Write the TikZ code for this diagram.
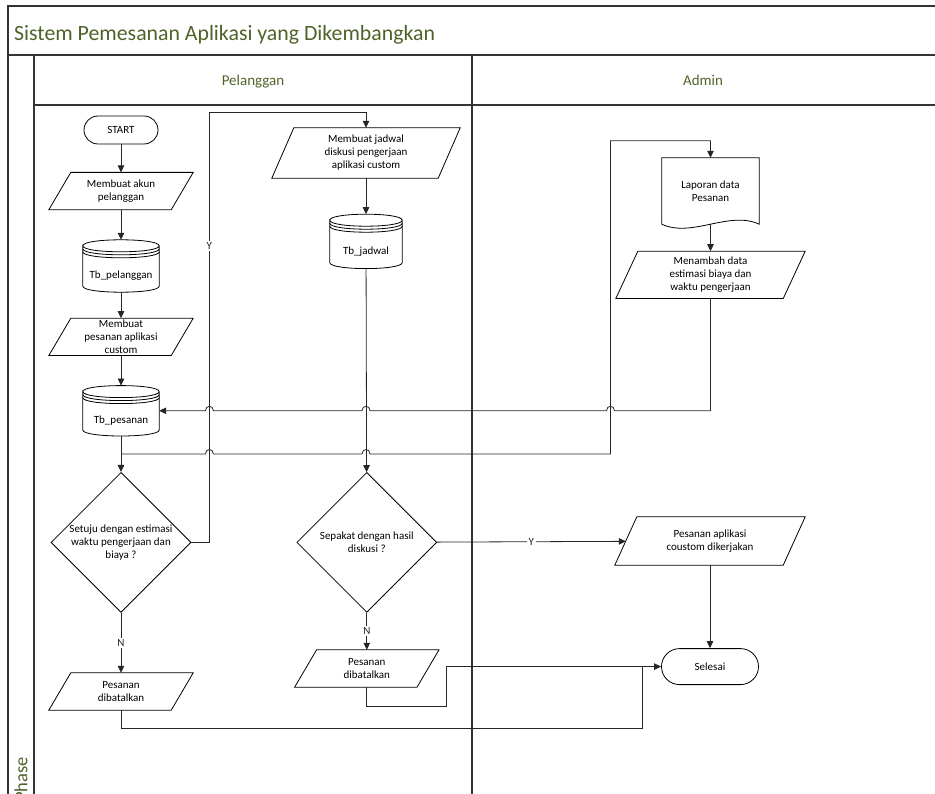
\documentclass[tikz,border=0pt]{standalone}
\usepackage{fontspec}
\setmainfont{Carlito}
\usetikzlibrary{arrows.meta, shapes.geometric, calc, positioning}
\definecolor{lanegreen}{RGB}{79,98,40}
\newcommand\boxfont{\fontsize{11}{13}\selectfont}

\begin{document}
\begin{tikzpicture}[x=1pt, y=-1pt, font=\boxfont, align=center]
\tikzstyle{lane}=[line width=1.5pt, black!80]
\tikzstyle{lanetext}=[inner sep=0pt, text=lanegreen, font=\fontsize{15}{18}\selectfont]
\tikzstyle{shapeline}=[line width=0.8pt, black]
\tikzstyle{term}=[draw, shapeline, rectangle, rounded corners=14pt, minimum width=74pt, minimum height=28pt]
\tikzstyle{decision}=[draw, shapeline, diamond, aspect=1, minimum width=140pt, minimum height=140pt, inner sep=0pt]
\tikzstyle{io}=[rectangle, inner sep=0pt, minimum width=122pt, minimum height=37pt,
  append after command={\pgfextra{\draw[shapeline]
    ($(\tikzlastnode.north west)+(11,0)$) -- ($(\tikzlastnode.north east)+(11,0)$) --
    ($(\tikzlastnode.south east)+(-11,0)$) -- ($(\tikzlastnode.south west)+(-11,0)$) -- cycle;}}]
\tikzstyle{db}=[rectangle, minimum width=76pt, minimum height=52pt, text height=26pt, text depth=0pt,
  append after command={\pgfextra{
    \draw[shapeline] ($(\tikzlastnode.north west)+(0,6)$) .. controls +(0,-8) and +(0,-8) .. ($(\tikzlastnode.north east)+(0,6)$)
      .. controls +(0,8) and +(0,8) .. ($(\tikzlastnode.north west)+(0,6)$)
      -- ($(\tikzlastnode.south west)+(0,-6)$)
      .. controls +(0,8) and +(0,8) .. ($(\tikzlastnode.south east)+(0,-6)$)
      -- ($(\tikzlastnode.north east)+(0,6)$);
    \draw[shapeline] ($(\tikzlastnode.north west)+(0,9)$) .. controls +(0,8) and +(0,8) .. ($(\tikzlastnode.north east)+(0,9)$);
    \draw[shapeline] ($(\tikzlastnode.north west)+(0,12)$) .. controls +(0,8) and +(0,8) .. ($(\tikzlastnode.north east)+(0,12)$);}}]
\tikzstyle{doc}=[rectangle, minimum width=97pt, minimum height=66pt,
  append after command={\pgfextra{\draw[shapeline] (\tikzlastnode.south west) -- (\tikzlastnode.north west)
    -- (\tikzlastnode.north east) -- (\tikzlastnode.south east)
    .. controls +(-30,-14) and +(30,14) .. (\tikzlastnode.south west);}}]
\tikzstyle{line}=[draw, line width=0.8pt, black!85]
\tikzstyle{arr}=[line, -{Triangle[length=7pt,width=6.5pt]}]
\tikzstyle{lbl}=[fill=white, inner sep=1.5pt]

\useasboundingbox (0,0) rectangle (935,794);
\clip (0,0) rectangle (935,794);

% swimlanes
\draw[lane] (8,794) -- (8,6) -- (935,6);
\draw[lane] (8,55) -- (935,55);
\draw[lane] (34,55) -- (34,794);
\draw[lane] (34,105) -- (935,105);
\draw[lane] (472,55) -- (472,794);
\node[lanetext, anchor=base west, font=\fontsize{21.8}{26}\selectfont] (title) at (14,41) {Sistem Pemesanan Aplikasi yang Dikembangkan};
\node[lanetext, anchor=base] (hpel) at (253,86) {Pelanggan};
\node[lanetext, anchor=base] (hadm) at (703,86) {Admin};
\node[lanetext, rotate=90, anchor=east, font=\fontsize{18.5}{22}\selectfont] (phase) at (21,757) {Phase};

% Pelanggan
\node[term] (start) at (121,130) {START};
\node[io] (akun) [below=28pt of start] {Membuat akun\\pelanggan};
\node[db] (dbpel) [below=30pt of akun] {Tb\_pelanggan};
\node[io] (pesan) [below=26pt of dbpel] {Membuat\\pesanan aplikasi\\custom};
\node[db, minimum height=50pt] (dbpes) [below=30pt of pesan] {Tb\_pesanan};
\node[decision] (dec1) [below=36pt of dbpes] {Setuju dengan estimasi\\waktu pengerjaan dan\\biaya ?};
\node[io] (batal1) [below=60pt of dec1] {Pesanan\\dibatalkan};

\node[io, minimum width=166pt, minimum height=50pt] (jadwal) at (366,153) {Membuat jadwal\\diskusi pengerjaan\\aplikasi custom};
\node[db, minimum width=72pt, minimum height=54pt] (dbjad) [below=36pt of jadwal] {Tb\_jadwal};
\node[decision] (dec2) [right=105pt of dec1] {Sepakat dengan hasil\\diskusi ?};
\node[io] (batal2) [below=37pt of dec2] {Pesanan\\dibatalkan};

% Admin
\node[doc] (laporan) at (710.5,191) {Laporan data\\Pesanan};
\node[io, minimum width=167pt, minimum height=47pt] (tambah) [below=27pt of laporan] {Menambah data\\estimasi biaya dan\\waktu pengerjaan};
\node[io, minimum width=168pt, minimum height=48pt] (kerja) at (710,541) {Pesanan aplikasi\\coustom dikerjakan};
\node[term, rounded corners=18pt, minimum width=97pt, minimum height=36pt] (selesai) [below=83pt of kerja] {Selesai};

\coordinate (split) at ($(dbpes.south)!0.5!(dec1.north)$);
\coordinate (loopx) at ($(dec1.east)+(18,0)$);
\coordinate (looptop) at ($(jadwal.north)+(0,-15)$);
\coordinate (upx) at ($(laporan.north)+(-100,-17)$);

\draw[arr] (start) -- (akun);
\draw[arr] (akun) -- (dbpel);
\draw[arr] (dbpel) -- (pesan);
\draw[arr] (pesan) -- (dbpes);
\draw[arr] (dbpes) -- (dec1);
\draw[arr] (dec1.east) -- (loopx) -- node[lbl, pos=0.69] {Y} (loopx |- looptop) -- (looptop) -- (jadwal.north);
\draw[arr] (jadwal) -- (dbjad);
\draw[arr] (dbjad) -- (dec2);
\draw[arr] (dec1) -- node[lbl] {N} (batal1);
\draw[arr] (dec2) -- node[lbl] {N} (batal2);
\draw[arr] (dec2) -- node[lbl] {Y} (kerja);
\draw[arr] (laporan) -- (tambah);
\draw[arr] (kerja) -- (selesai);

% back to Tb_pesanan, hopping over the verticals
\draw[arr] (tambah.south) -- (tambah.south |- dbpes.east)
  -- ($(upx |- dbpes.east)+(4,0)$) .. controls +(0,-6) and +(0,-6) .. ($(upx |- dbpes.east)+(-4,0)$)
  -- ($(dbjad.south |- dbpes.east)+(4,0)$) .. controls +(0,-6) and +(0,-6) .. ($(dbjad.south |- dbpes.east)+(-4,0)$)
  -- ($(loopx |- dbpes.east)+(4,0)$) .. controls +(0,-6) and +(0,-6) .. ($(loopx |- dbpes.east)+(-4,0)$)
  -- (dbpes.east);
\draw[arr] (split)
  -- ($(loopx |- split)+(-4,0)$) .. controls +(0,-6) and +(0,-6) .. ($(loopx |- split)+(4,0)$)
  -- ($(dbjad.south |- split)+(-4,0)$) .. controls +(0,-6) and +(0,-6) .. ($(dbjad.south |- split)+(4,0)$)
  -- (upx |- split) -- (upx) -| (laporan.north);

\draw[arr] (batal2.south) -- ++(0,19) -| ($(selesai.west)+(-215,0)$) -- (selesai.west);
\draw[line] (batal1.south) -- ++(0,18) -| ($(selesai.west)+(-19,0)$);
\end{tikzpicture}
\end{document}
